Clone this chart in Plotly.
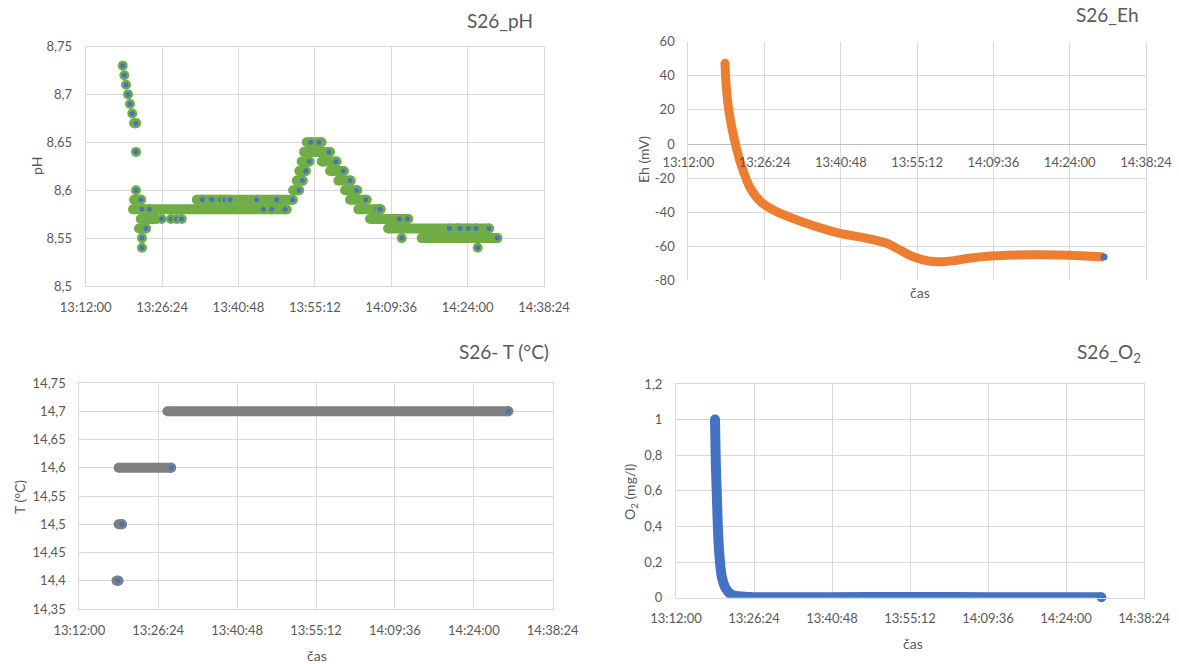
import plotly.graph_objects as go
import pandas as pd

DAY = "2019-01-01 "

def ts(lst):
    return [pd.Timestamp(DAY + s) for s in lst]

# ---------------- axis ticks ----------------
x_tick_labels = ["13:12:00", "13:26:24", "13:40:48", "13:55:12", "14:09:36", "14:24:00", "14:38:24"]

ph_ticks = [8.5, 8.55, 8.6, 8.65, 8.7, 8.75]
ph_tick_labels = ["8,5", "8,55", "8,6", "8,65", "8,7", "8,75"]
eh_ticks = [-80, -60, -40, -20, 0, 20, 40, 60]
eh_tick_labels = ["-80", "-60", "-40", "-20", "0", "20", "40", "60"]
t_ticks = [14.35, 14.4, 14.45, 14.5, 14.55, 14.6, 14.65, 14.7, 14.75]
t_tick_labels = ["14,35", "14,4", "14,45", "14,5", "14,55", "14,6", "14,65", "14,7", "14,75"]
o2_ticks = [0, 0.2, 0.4, 0.6, 0.8, 1.0, 1.2]
o2_tick_labels = ["0", "0,2", "0,4", "0,6", "0,8", "1", "1,2"]

# ---------------- pH data ----------------
# runs of repeated readings (value, first time, last time)
ph_band_value = [8.67, 8.59, 8.58, 8.57, 8.56, 8.59, 8.60, 8.61, 8.62, 8.63, 8.64, 8.65,
                 8.63, 8.62, 8.61, 8.60, 8.59, 8.58, 8.57, 8.56, 8.55]
ph_band_start = ["13:21:07", "13:21:07", "13:20:55", "13:22:22", "13:22:03", "13:32:56", "13:51:06",
                 "13:51:47", "13:52:16", "13:52:43", "13:53:10", "13:53:40", "13:56:29", "13:58:04",
                 "13:59:38", "14:00:53", "14:01:50", "14:03:24", "14:05:36", "14:09:00", "14:15:21"]
ph_band_end = ["13:21:29", "13:22:26", "13:49:54", "13:25:23", "13:23:22", "13:51:02", "13:52:13",
               "13:52:55", "13:53:29", "13:54:10", "13:58:04", "13:56:29", "13:59:19", "14:00:42",
               "14:01:58", "14:03:13", "14:04:59", "14:07:37", "14:12:49", "14:28:02", "14:29:36"]
# individual readings visible
ph_time = ["13:18:59", "13:19:17", "13:19:36", "13:19:59", "13:20:21", "13:20:47", "13:21:29",
           "13:21:29", "13:21:29", "13:22:26", "13:22:37", "13:23:22", "13:22:37", "13:22:37",
           "13:23:59", "13:26:20", "13:28:05", "13:29:09", "13:30:06",
           "13:33:59", "13:35:45", "13:37:27", "13:38:16", "13:39:12", "13:44:14", "13:48:01",
           "13:45:29", "13:47:04", "13:49:35", "13:51:02",
           "13:52:13", "13:52:52", "13:53:29", "13:54:10", "13:54:25", "13:55:59",
           "13:57:52", "13:59:11", "14:00:34", "14:01:50", "14:03:06", "14:04:47",
           "14:06:52", "14:07:29", "14:11:08", "14:12:43", "14:11:35",
           "14:20:33", "14:22:04", "14:22:34", "14:24:08", "14:25:35", "14:28:02",
           "14:25:54", "14:29:36"]
ph_value = [8.73, 8.72, 8.71, 8.70, 8.69, 8.68, 8.67,
            8.64, 8.60, 8.59, 8.58, 8.56, 8.55, 8.54,
            8.58, 8.57, 8.57, 8.57, 8.57,
            8.59, 8.59, 8.59, 8.59, 8.59, 8.59, 8.59,
            8.58, 8.58, 8.58, 8.59,
            8.60, 8.61, 8.62, 8.63, 8.65, 8.65,
            8.64, 8.63, 8.62, 8.61, 8.60, 8.59,
            8.58, 8.58, 8.57, 8.57, 8.55,
            8.56, 8.56, 8.56, 8.56, 8.56, 8.56,
            8.54, 8.55]

# ---------------- Eh data ----------------
eh_time = ["13:18:56", "13:19:07", "13:19:33", "13:20:11", "13:21:01", "13:22:05", "13:23:39",
           "13:25:52", "13:28:03", "13:31:12", "13:36:14", "13:40:38", "13:45:41", "13:49:27",
           "13:51:58", "13:54:29", "13:57:38", "14:00:00", "14:02:05", "14:04:57", "14:08:30",
           "14:12:00", "14:19:00", "14:26:00", "14:30:29"]
eh_value = [47.3, 35.6, 21.9, 10.2, -1.6, -13.3, -25.6,
            -34.4, -38.7, -43.0, -48.5, -52.4, -55.3, -58.2,
            -62.2, -66.1, -68.8, -69.0, -68.4, -67.0, -65.8,
            -65.2, -65.0, -65.6, -66.3]

# ---------------- temperature data ----------------
t_band_value = [14.4, 14.5, 14.6, 14.7]
t_band_start = ["13:18:47", "13:19:10", "13:19:10", "13:28:05"]
t_band_end = ["13:19:10", "13:19:47", "13:28:46", "14:30:18"]
t_time = ["13:19:03", "13:19:47", "13:28:46", "14:30:18"]
t_value = [14.4, 14.5, 14.6, 14.7]

# ---------------- O2 data ----------------
o2_time = ["13:19:12", "13:19:21", "13:19:33", "13:19:45", "13:20:02", "13:20:27", "13:21:10",
           "13:22:20", "13:25:29", "13:40:00", "13:55:00", "14:10:00", "14:30:32"]
o2_value = [1.00, 0.755, 0.567, 0.38, 0.23, 0.118, 0.053,
            0.015, 0.004, 0.003, 0.004, 0.003, 0.003]

# ---------------- styling ----------------
W, H = 1179, 664
TXT = "#595959"
GRID = "#D9D9D9"
FONT = "Lato"
BLUE = "#4472C4"
GREEN = "#70AD47"
ORANGE = "#ED7D31"
GRAY = "#7F7F7F"


def px(x):
    return x / W


def py(y):
    return 1 - y / H


def band_xy(vals, starts, ends):
    xs, ys = [], []
    for v, s, e in zip(vals, ts(starts), ts(ends)):
        xs += [s, e, None]
        ys += [v, v, None]
    return xs, ys


fig = go.Figure()

# pH
bx, by = band_xy(ph_band_value, ph_band_start, ph_band_end)
fig.add_trace(go.Scatter(x=bx, y=by, mode="lines", line=dict(color=GREEN, width=10),
                         xaxis="x", yaxis="y", cliponaxis=False))
fig.add_trace(go.Scatter(x=ts(ph_band_start) + ts(ph_band_end), y=ph_band_value * 2, mode="markers",
                         marker=dict(color=GREEN, size=10), xaxis="x", yaxis="y", cliponaxis=False))
fig.add_trace(go.Scatter(x=ts(ph_time), y=ph_value, mode="markers",
                         marker=dict(color=BLUE, size=7.5, line=dict(color=GREEN, width=2.5)),
                         xaxis="x", yaxis="y", cliponaxis=False))

# Eh
fig.add_trace(go.Scatter(x=ts(eh_time), y=eh_value, mode="lines",
                         line=dict(color=ORANGE, width=9, shape="spline", smoothing=0.8),
                         xaxis="x2", yaxis="y2"))
fig.add_trace(go.Scatter(x=ts(eh_time[:1]), y=eh_value[:1], mode="markers",
                         marker=dict(color=ORANGE, size=9, opacity=1, line=dict(width=0)),
                         xaxis="x2", yaxis="y2"))
fig.add_trace(go.Scatter(x=ts(eh_time[-1:]), y=eh_value[-1:], mode="markers",
                         marker=dict(color=BLUE, size=7, opacity=1, line=dict(width=0)),
                         xaxis="x2", yaxis="y2"))

# T
bx, by = band_xy(t_band_value, t_band_start, t_band_end)
fig.add_trace(go.Scatter(x=bx, y=by, mode="lines", line=dict(color=GRAY, width=10),
                         xaxis="x3", yaxis="y3"))
fig.add_trace(go.Scatter(x=ts(t_band_start) + ts(t_band_end), y=t_band_value * 2, mode="markers",
                         marker=dict(color=GRAY, size=10), xaxis="x3", yaxis="y3"))
fig.add_trace(go.Scatter(x=ts(t_time), y=t_value, mode="markers",
                         marker=dict(color=BLUE, size=7.5, line=dict(color=GRAY, width=2.5)),
                         xaxis="x3", yaxis="y3"))

# O2
fig.add_trace(go.Scatter(x=ts(o2_time), y=o2_value, mode="lines",
                         line=dict(color=BLUE, width=10, shape="spline", smoothing=0.6),
                         xaxis="x4", yaxis="y4", cliponaxis=False))
fig.add_trace(go.Scatter(x=ts(o2_time[:1]) + ts(o2_time[-1:]), y=[o2_value[0], o2_value[-1]],
                         mode="markers", marker=dict(color=BLUE, size=10, line=dict(width=0)),
                         xaxis="x4", yaxis="y4", cliponaxis=False))

x_range = [pd.Timestamp(DAY + x_tick_labels[0]), pd.Timestamp(DAY + x_tick_labels[-1])]
x_tickvals = ts(x_tick_labels)

tickfont = dict(family=FONT, size=13, color=TXT)


def xaxis_cfg(domain, anchor, **kw):
    d = dict(domain=domain, anchor=anchor, type="date", range=x_range,
             tickvals=x_tickvals, ticktext=x_tick_labels, showgrid=True, gridcolor=GRID,
             gridwidth=1, showline=True, linecolor=GRID, mirror=True, ticks="",
             ticklabelstandoff=9, tickfont=tickfont, zeroline=False, automargin=False)
    d.update(kw)
    return d


def yaxis_cfg(domain, anchor, rng, tv, tt, **kw):
    d = dict(domain=domain, anchor=anchor, range=rng, tickvals=tv, ticktext=tt,
             showgrid=True, gridcolor=GRID, gridwidth=1, showline=True, linecolor=GRID,
             mirror=True, ticks="", ticklabelstandoff=10, tickfont=tickfont, zeroline=False,
             automargin=False)
    d.update(kw)
    return d


dom_ph_x = [px(85.7), px(544)]
dom_ph_y = [py(286), py(46.5)]
dom_eh_x = [px(688.3), px(1146)]
dom_eh_y = [py(280.4), py(41.7)]
dom_t_x = [px(79.3), px(552.7)]
dom_t_y = [py(609), py(383)]
dom_o2_x = [px(676), px(1144)]
dom_o2_y = [py(597.7), py(384)]

fig.update_layout(
    width=W, height=H, margin=dict(l=0, r=0, t=0, b=0, autoexpand=False),
    paper_bgcolor="white", plot_bgcolor="white", showlegend=False, hovermode=False,
    font=dict(family=FONT, color=TXT),
    xaxis=xaxis_cfg(dom_ph_x, "y"),
    yaxis=yaxis_cfg(dom_ph_y, "x", [8.5, 8.75], ph_ticks, ph_tick_labels),
    xaxis2=xaxis_cfg(dom_eh_x, "free", position=py(144), showline=False, mirror=False),
    yaxis2=yaxis_cfg(dom_eh_y, "x2", [-80, 60], eh_ticks, eh_tick_labels,
                     zeroline=True, zerolinecolor="#BFBFBF", zerolinewidth=1),
    xaxis3=xaxis_cfg(dom_t_x, "y3"),
    yaxis3=yaxis_cfg(dom_t_y, "x3", [14.35, 14.75], t_ticks, t_tick_labels),
    xaxis4=xaxis_cfg(dom_o2_x, "y4"),
    yaxis4=yaxis_cfg(dom_o2_y, "x4", [0, 1.2], o2_ticks, o2_tick_labels),
)

anns = [
    ("S26_pH", 500, 21, 19, 0), ("S26_Eh", 1107, 14, 19, 0),
    ("S26- T (°C)", 504, 351, 19, 0), ("S26_O<sub>2</sub>", 1109, 353, 19, 0),
    ("pH", 36, 166, 14, -90), ("Eh (mV)", 643, 160, 14, -90),
    ("T (°C)", 19, 497, 14, -90), ("O<sub>2</sub> (mg/l)", 630, 492, 14, -90),
    ("čas", 920, 293, 14, 0), ("čas", 317, 655, 14, 0), ("čas", 913, 643, 14, 0),
]
for text, x, y, size, ang in anns:
    fig.add_annotation(text=text, x=px(x), y=py(y), xref="paper", yref="paper",
                       xanchor="center", yanchor="middle", showarrow=False, textangle=ang,
                       font=dict(family=FONT, size=size, color=TXT))

fig.write_html("out.html")
